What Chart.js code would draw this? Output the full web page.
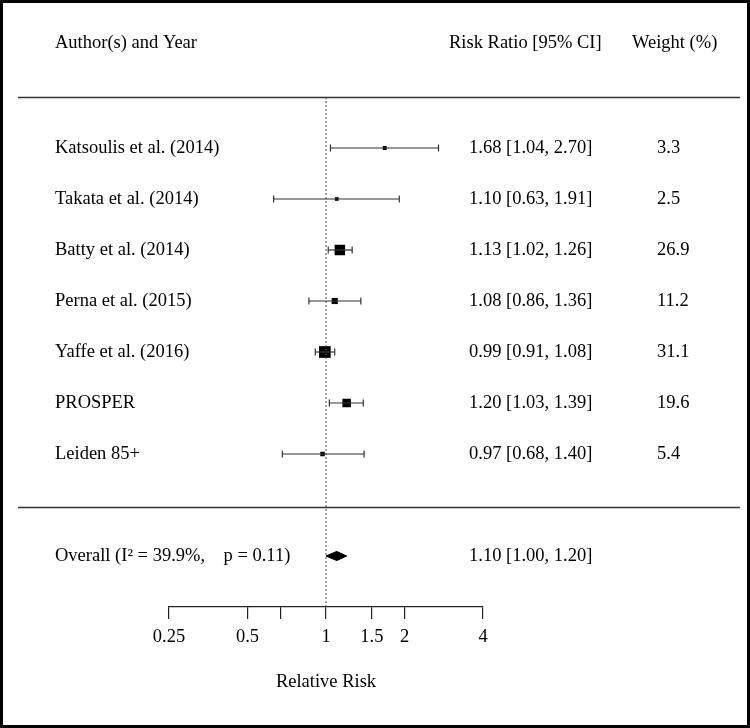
<!DOCTYPE html>
<html>
<head>
<meta charset="utf-8">
<script src="https://cdn.jsdelivr.net/npm/chart.js@4/dist/chart.umd.min.js"></script>
<style>
  body { margin: 0; background: #fff; }
  #wrap { width: 750px; height: 728px; position: relative; }
</style>
</head>
<body>
<div id="wrap"><canvas id="forest"></canvas></div>
<script>
const studies = ["Katsoulis et al. (2014)", "Takata et al. (2014)", "Batty et al. (2014)",
  "Perna et al. (2015)", "Yaffe et al. (2016)", "PROSPER", "Leiden 85+"];
const est = [1.68, 1.10, 1.13, 1.08, 0.99, 1.20, 0.97];
const lower = [1.04, 0.63, 1.02, 0.86, 0.91, 1.03, 0.68];
const upper = [2.70, 1.91, 1.26, 1.36, 1.08, 1.39, 1.40];
const weight = [3.3, 2.5, 26.9, 11.2, 31.1, 19.6, 5.4];

const overallEst = 1.10;
const overallLower = 1.00;
const overallUpper = 1.20;
const overallLabel = "Overall (I\u00B2 = 39.9%,    p = 0.11)";

const tickValues = [0.25, 0.5, 0.667, 1, 1.5, 2, 4];
const tickLabels = ["0.25", "0.5", "", "1", "1.5", "2", "4"];

const overallRow = studies.length + 1;
const fmt = v => v.toFixed(2);
const FONT = "'Liberation Serif', 'Times New Roman', serif";

Chart.defaults.font.family = FONT;
Chart.defaults.font.size = 18.5;
Chart.defaults.color = "#000";

const datasets = [];

// reference line at 1
datasets.push({
  data: [{ x: 1, y: -1 }, { x: 1, y: 9 }],
  showLine: true, borderColor: "#444", borderWidth: 1, borderDash: [2, 2],
  pointRadius: 0
});

// confidence intervals with end caps
studies.forEach((s, i) => {
  datasets.push({
    data: [{ x: lower[i], y: i }, { x: upper[i], y: i }],
    showLine: true, borderColor: "#333", borderWidth: 1.2,
    pointStyle: "line", rotation: 90, pointRadius: 3.5,
    pointBorderColor: "#333", pointBorderWidth: 1.2
  });
});

// point estimates, size from weight
datasets.push({
  data: est.map((v, i) => ({ x: v, y: i })),
  pointStyle: "rect",
  pointRadius: weight.map(w => (3 + 0.28 * w) / Math.SQRT2),
  backgroundColor: "#000", borderWidth: 0
});

// summary diamond
datasets.push({
  data: [
    { x: overallLower, y: overallRow },
    { x: overallEst, y: overallRow - 0.09 },
    { x: overallUpper, y: overallRow },
    { x: overallEst, y: overallRow + 0.09 },
    { x: overallLower, y: overallRow }
  ],
  showLine: true, fill: "shape", backgroundColor: "#000",
  borderColor: "#000", borderWidth: 1, pointRadius: 0, tension: 0
});

const textPlugin = {
  id: "forestText",
  afterDraw(chart) {
    const ctx = chart.ctx;
    const yS = chart.scales.y;
    ctx.save();
    ctx.fillStyle = "#000";
    ctx.font = "18.5px " + FONT;
    ctx.textBaseline = "middle";
    ctx.textAlign = "left";

    // header
    ctx.fillText("Author(s) and Year", 55, 43);
    ctx.fillText("Risk Ratio [95% CI]", 449, 43);
    ctx.fillText("Weight (%)", 632, 43);

    studies.forEach((s, i) => {
      const y = yS.getPixelForValue(i);
      ctx.fillText(s, 55, y);
      ctx.fillText(fmt(est[i]) + " [" + fmt(lower[i]) + ", " + fmt(upper[i]) + "]", 469, y);
      ctx.fillText(weight[i].toFixed(1), 657, y);
    });

    const yo = yS.getPixelForValue(overallRow);
    ctx.fillText(overallLabel, 55, yo);
    ctx.fillText(fmt(overallEst) + " [" + fmt(overallLower) + ", " + fmt(overallUpper) + "]", 469, yo);

    // separators
    ctx.strokeStyle = "#333";
    ctx.lineWidth = 1.3;
    [-1, studies.length + 0.04].forEach(r => {
      const y = Math.round(yS.getPixelForValue(r)) + 0.5;
      ctx.beginPath();
      ctx.moveTo(18, y);
      ctx.lineTo(740, y);
      ctx.stroke();
    });

    // frame
    ctx.strokeStyle = "#000";
    ctx.lineWidth = 3;
    ctx.strokeRect(1.5, 1.5, chart.width - 3, chart.height - 3);
    ctx.restore();
  }
};

new Chart(document.getElementById("forest"), {
  type: "scatter",
  data: { datasets },
  options: {
    responsive: true,
    maintainAspectRatio: false,
    animation: false,
    events: [],
    layout: { padding: { top: 97, bottom: 34.6, left: 169, right: 267 } },
    plugins: { legend: { display: false }, tooltip: { enabled: false } },
    scales: {
      x: {
        type: "logarithmic",
        min: 0.25,
        max: 4,
        afterBuildTicks: s => { s.ticks = tickValues.map(v => ({ value: v })); },
        ticks: {
          autoSkip: false, maxRotation: 0, padding: 7, color: "#000",
          callback: (v, i) => tickLabels[i]
        },
        grid: { drawOnChartArea: false, drawTicks: true, tickLength: 12, color: "#222", lineWidth: 1.2 },
        border: { display: true, color: "#222", width: 1.2 },
        title: { display: true, text: "Relative Risk", color: "#000", padding: { top: 16, bottom: 0 } }
      },
      y: { type: "linear", min: -1, max: 9, reverse: true, display: false }
    }
  },
  plugins: [textPlugin]
});
</script>
</body>
</html>
